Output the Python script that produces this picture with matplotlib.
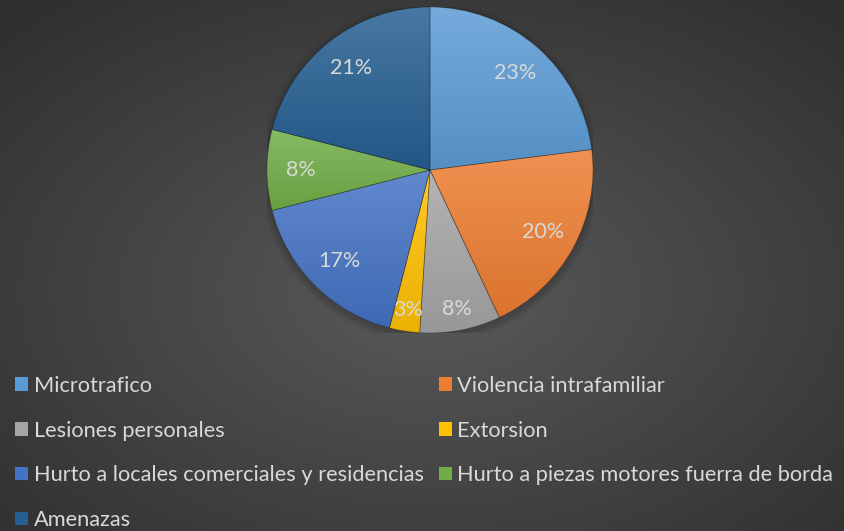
import numpy as np
import matplotlib
matplotlib.use('Agg')
import matplotlib.pyplot as plt
import matplotlib.colors as mcolors
from matplotlib.patches import Patch, Circle

# Data
categories = ['Microtrafico', 'Violencia intrafamiliar', 'Lesiones personales', 'Extorsion',
              'Hurto a locales comerciales y residencias', 'Hurto a piezas motores fuerra de borda',
              'Amenazas']
values = [23, 20, 8, 3, 17, 8, 21]
colors = ['#5b9bd5', '#ed7d31', '#a5a5a5', '#ffc000', '#4472c4', '#70ad47', '#255e91']

text_color = '#d9d9d9'
plt.rcParams['font.family'] = ['Lato', 'DejaVu Sans']

fig = plt.figure(figsize=(8.45, 5.31), dpi=100)

# Radial gradient background
bg = fig.add_axes([0, 0, 1, 1], zorder=-10)
yy, xx = np.mgrid[0:531, 0:845]
d = np.sqrt(((xx - 430) / 845.0) ** 2 + ((yy - 290) / 531.0) ** 2) / 0.72
d = np.clip(d, 0, 1)
c0 = np.array(mcolors.to_rgb('#5a5a5a'))
c1 = np.array(mcolors.to_rgb('#2f2f2f'))
img = c0[None, None, :] * (1 - d[..., None]) + c1[None, None, :] * d[..., None]
bg.imshow(img, aspect='auto', extent=[0, 1, 0, 1])
bg.axis('off')

# Pie axes: center ~(430,170) px, radius ~163 px
ax = fig.add_axes([267 / 845, (531 - 333) / 531, 326 / 845, 326 / 531])
ax.set_xlim(-1, 1)
ax.set_ylim(-1, 1)
ax.set_aspect('equal')
ax.axis('off')

# soft shadow under the pie
for i, a in enumerate([0.06, 0.05, 0.04, 0.03]):
    ax.add_patch(Circle((0.0, -0.015), 1.0 + 0.012 * (i + 1), color='black', alpha=a, lw=0, zorder=0))

wedges, texts, autotexts = ax.pie(values, colors=colors, startangle=90, counterclock=False,
                                  autopct='%1.0f%%', pctdistance=0.79, radius=1.0,
                                  wedgeprops=dict(linewidth=0.6, edgecolor=(0, 0, 0, 0.25)),
                                  textprops=dict(color=text_color, fontsize=15.5))

# vertical gradient inside each wedge (lighter at top)
for w, col in zip(wedges, colors):
    base = np.array(mcolors.to_rgb(col))
    top = base + (1 - base) * 0.16
    bot = base * 0.92
    ext = w.get_path().get_extents()
    t = np.linspace(1, 0, 64)[:, None, None]
    grad = top[None, None, :] * t + bot[None, None, :] * (1 - t)
    grad = np.repeat(grad, 2, axis=1)
    im = ax.imshow(grad, extent=[ext.x0, ext.x1, ext.y0, ext.y1], aspect='auto', zorder=1.5)
    im.set_clip_path(w)
    w.set_zorder(2)
    w.set_facecolor('none')

for t in autotexts:
    t.set_zorder(5)

# the two narrow bottom slices have their labels nearer the rim
for k in (2, 3):
    x, y = autotexts[k].get_position()
    autotexts[k].set_position((x * 1.1, y * 1.1))

ax.set_xlim(-1, 1)
ax.set_ylim(-1, 1)

# legend is read row by row in the reference; matplotlib fills columns first
order = [0, 2, 4, 6, 1, 3, 5]
handles = [Patch(facecolor=colors[i], edgecolor='none') for i in order]
labels = [categories[i] for i in order]
leg = fig.legend(handles, labels, loc='upper left', bbox_to_anchor=(0.008, 0.309),
                 ncol=2, frameon=False, fontsize=15.7, labelcolor=text_color,
                 handlelength=0.58, handleheight=0.58, handletextpad=0.25,
                 columnspacing=0.72, labelspacing=1.14, borderaxespad=0)

fig.savefig('out.png', dpi=100)
